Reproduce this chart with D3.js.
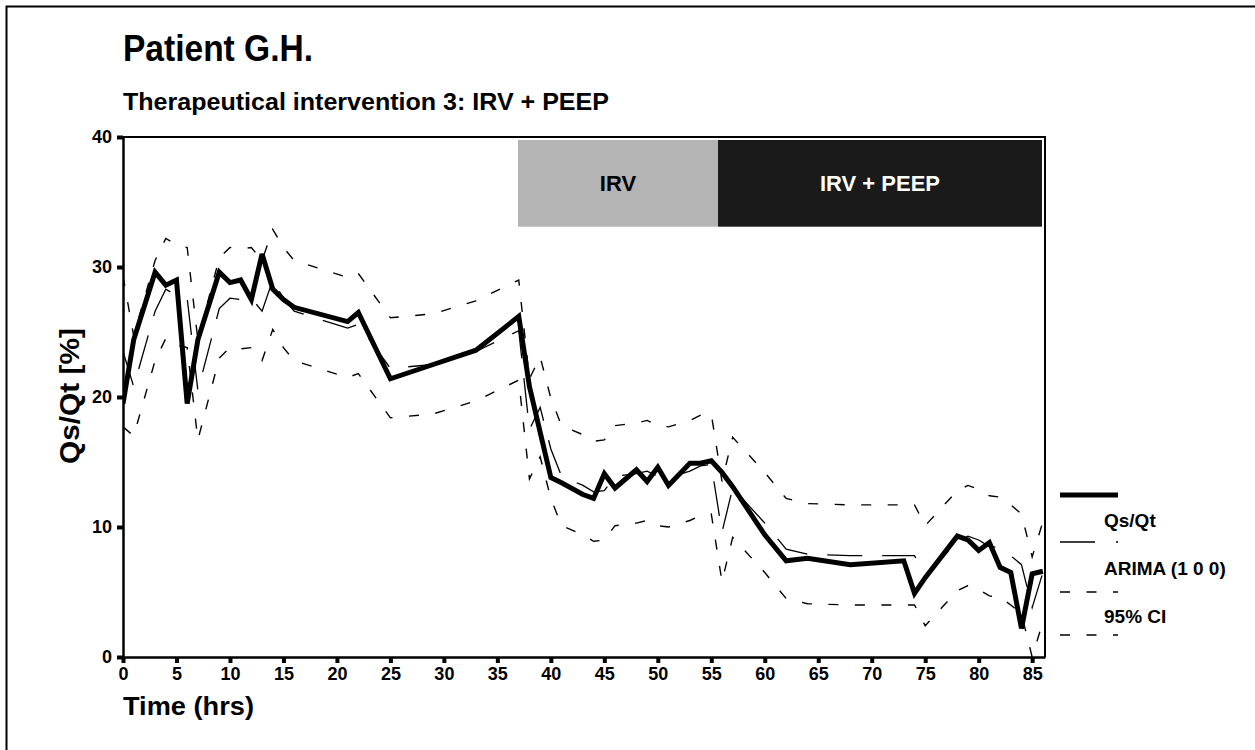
<!DOCTYPE html>
<html>
<head>
<meta charset="utf-8">
<script src="https://cdn.jsdelivr.net/npm/d3@7"></script>
<style>
  body { margin: 0; background: #fff; }
  svg { display: block; font-family: "Liberation Sans", Arial, sans-serif; font-weight: bold; }
</style>
</head>
<body>
<script>
// measurement times (hrs)
const times = [0,1,3,4,5,6,7,9,10,11, 12,13,14,15,16,21,22,25,29,33,
  37,38,39,40,41,43,44,45,46,48, 49,50,51,53,54,55,56,57,60,62,
  64,68,73,74,75,78,79,80,81,82, 83,84,85,86];

// measured shunt fraction Qs/Qt [%]
const qsqt = [19.5,24.4,29.6,28.6,29.0,19.5,24.4,29.6,28.8,29.0, 27.5,31.0,28.3,27.5,26.9,25.8,26.5,21.4,22.5,23.6,
  26.2,20.8,17.3,13.8,13.4,12.5,12.2,14.1,13.0,14.4, 13.5,14.6,13.2,14.9,14.9,15.1,14.2,13.1,9.4,7.4,
  7.6,7.1,7.4,4.9,6.1,9.3,9.0,8.2,8.8,6.9, 6.5,2.2,6.4,6.6];

// ARIMA (1 0 0) fit
const arima = [23.5,20.8,26.6,28.3,27.8,27.6,20.5,26.8,27.6,27.5, 27.6,26.6,29.0,27.6,26.6,25.3,25.6,22.2,22.5,23.5,
  25.1,17.5,19.2,16.0,13.9,13.2,12.7,12.8,13.9,14.1, 14.3,13.9,13.8,14.3,14.7,14.8,9.6,13.0,10.3,8.3,
  7.9,7.8,7.8,7.8,6.2,8.9,9.3,9.0,8.5,8.4, 7.8,7.1,3.8,6.5];

// 95% confidence band
const ciUpper = [29.3,24.7,30.5,32.2,31.7,31.5,24.4,30.7,31.5,31.4, 31.5,30.5,32.9,31.5,30.5,29.2,29.5,26.1,26.4,27.4,
  29.0,21.4,23.1,19.9,17.8,17.1,16.6,16.7,17.8,18.0, 18.2,17.8,17.7,18.2,18.6,18.7,13.5,16.9,14.2,12.2,
  11.8,11.7,11.7,11.7,10.1,12.8,13.2,12.9,12.4,12.3, 11.7,11.0,7.7,10.4];
const ciLower = [17.7,17.0,22.8,24.5,24.0,23.8,16.7,23.0,23.8,23.7, 23.8,22.8,25.2,23.8,22.8,21.5,21.8,18.4,18.7,19.7,
  21.3,13.7,15.4,12.2,10.1,9.4,8.9,9.0,10.1,10.3, 10.5,10.1,10.0,10.5,10.9,11.0,5.8,9.2,6.5,4.5,
  4.1,4.0,4.0,4.0,2.4,5.1,5.5,5.2,4.7,4.6, 4.0,3.3,0.0,2.7];

// intervention periods
const phaseLabels = ["IRV", "IRV + PEEP"];
const phaseStart = [36.93, 55.63];
const phaseEnd = [55.63, 85.92];

const xTicks = d3.range(0, 86, 5);
const yTicks = [0, 10, 20, 30, 40];
const legendLabels = ["Qs/Qt", "ARIMA (1 0 0)", "95% CI"];

const svgWidth = 1255, svgHeight = 750;
const margin = { top: 137, left: 123, right: 210, bottom: 93 };
const w = svgWidth - margin.left - margin.right;
const h = svgHeight - margin.top - margin.bottom;

const svg = d3.select("body").append("svg")
  .attr("width", svgWidth)
  .attr("height", svgHeight);

// outer frame (only top and left edges visible)
svg.append("rect")
  .attr("x", 6.5).attr("y", 6.5)
  .attr("width", 1300).attr("height", 800)
  .attr("fill", "none").attr("stroke", "#000").attr("stroke-width", 2);

svg.append("text")
  .attr("x", 123).attr("y", 61)
  .attr("font-size", 37)
  .attr("textLength", 190).attr("lengthAdjust", "spacingAndGlyphs")
  .text("Patient G.H.");

svg.append("text")
  .attr("x", 123).attr("y", 110)
  .attr("font-size", 24)
  .attr("textLength", 486).attr("lengthAdjust", "spacingAndGlyphs")
  .text("Therapeutical intervention 3: IRV + PEEP");

const g = svg.append("g").attr("transform", `translate(${margin.left},${margin.top})`);

const x = d3.scaleLinear().domain([0, 86.2]).range([0, w]);
const y = d3.scaleLinear().domain([0, 40]).range([h, 0]);

g.append("clipPath").attr("id", "plot")
  .append("rect").attr("width", w).attr("height", h);

// phase bars
const phaseFill = ["#b4b4b4", "#1a1a1a"];
const phaseText = ["#000", "#fff"];
phaseLabels.forEach((lab, i) => {
  g.append("rect")
    .attr("x", x(phaseStart[i]))
    .attr("y", y(39.77))
    .attr("width", x(phaseEnd[i]) - x(phaseStart[i]))
    .attr("height", y(33.1) - y(39.77))
    .attr("fill", phaseFill[i]);
  g.append("text")
    .attr("x", (x(phaseStart[i]) + x(phaseEnd[i])) / 2)
    .attr("y", y(36.45))
    .attr("dy", "0.35em")
    .attr("text-anchor", "middle")
    .attr("font-size", 22)
    .attr("fill", phaseText[i])
    .text(lab);
});

const pts = arr => arr.map((v, i) => [times[i], v]);
const line = d3.line().x(d => x(d[0])).y(d => y(d[1]));

const lines = g.append("g").attr("clip-path", "url(#plot)");

[ciUpper, ciLower].forEach(arr => {
  lines.append("path")
    .attr("d", line(pts(arr)))
    .attr("fill", "none").attr("stroke", "#000")
    .attr("stroke-width", 1.4)
    .attr("stroke-dasharray", "10,16.5");
});

lines.append("path")
  .attr("d", line(pts(arima)))
  .attr("fill", "none").attr("stroke", "#000")
  .attr("stroke-width", 1.3)
  .attr("stroke-dasharray", "35,20");

lines.append("path")
  .attr("d", line(pts(qsqt)))
  .attr("fill", "none").attr("stroke", "#000")
  .attr("stroke-width", 5)
  .attr("stroke-linejoin", "miter")
  .attr("stroke-miterlimit", 3);

// axes
const xAxis = g.append("g")
  .attr("transform", `translate(0,${h})`)
  .call(d3.axisBottom(x).tickValues(xTicks).tickSize(6).tickSizeOuter(0).tickPadding(4));
const yAxis = g.append("g")
  .call(d3.axisLeft(y).tickValues(yTicks).tickSize(6).tickSizeOuter(0).tickPadding(5));

[xAxis, yAxis].forEach(ax => {
  ax.select(".domain").attr("stroke-width", 2.5);
  ax.selectAll(".tick line").attr("stroke-width", 4);
  ax.selectAll(".tick text")
    .attr("font-family", "Liberation Sans, Arial, sans-serif")
    .attr("font-weight", "bold")
    .attr("font-size", 18)
    .attr("fill", "#000");
});
yAxis.selectAll(".tick text").attr("dy", "0.3em");

// top and right border of the plot
g.append("path")
  .attr("d", `M0,0H${w}V${h}`)
  .attr("fill", "none").attr("stroke", "#000").attr("stroke-width", 2);

// axis titles
svg.append("text")
  .attr("transform", `translate(79,396) rotate(-90)`)
  .attr("text-anchor", "middle")
  .attr("font-size", 27)
  .attr("textLength", 136).attr("lengthAdjust", "spacingAndGlyphs")
  .text("Qs/Qt [%]");

svg.append("text")
  .attr("x", 123).attr("y", 715)
  .attr("font-size", 25)
  .attr("textLength", 131).attr("lengthAdjust", "spacingAndGlyphs")
  .text("Time (hrs)");

// legend
const lg = svg.append("g");
const legX0 = 1060, legX1 = 1118;
lg.append("line").attr("x1", legX0).attr("x2", legX1).attr("y1", 495).attr("y2", 495)
  .attr("stroke", "#000").attr("stroke-width", 5);
lg.append("line").attr("x1", legX0).attr("x2", legX1).attr("y1", 542).attr("y2", 542)
  .attr("stroke", "#000").attr("stroke-width", 1.3).attr("stroke-dasharray", "35,21");
[592, 635].forEach(yy => {
  lg.append("line").attr("x1", legX0).attr("x2", legX1).attr("y1", yy).attr("y2", yy)
    .attr("stroke", "#000").attr("stroke-width", 1.4).attr("stroke-dasharray", "10,16.5");
});
[527, 575, 623].forEach((yy, i) => {
  lg.append("text").attr("x", 1104).attr("y", yy)
    .attr("font-size", 19)
    .text(legendLabels[i]);
});
</script>
</body>
</html>
